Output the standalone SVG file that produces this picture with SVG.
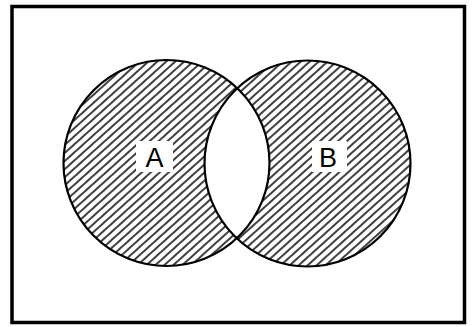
<svg xmlns="http://www.w3.org/2000/svg" width="474" height="327" viewBox="0 0 474 327">
  <style>
    .ring { fill: none; stroke: #000; stroke-width: 2.2; }
    .hatched { fill: url(#hatch); }
    .label-bg { fill: #fff; }
    .label { font-family: "Liberation Sans", Arial, sans-serif; font-size: 27px; fill: #000; text-anchor: middle; }
  </style>
  <defs>
    <pattern id="hatch" patternUnits="userSpaceOnUse" width="6" height="10" patternTransform="rotate(48)">
      <rect width="6" height="10" fill="#fff"/>
      <line x1="1" y1="-1" x2="1" y2="11" stroke="#000" stroke-width="1.5"/>
    </pattern>
    <clipPath id="clipA">
      <circle cx="166.5" cy="163" r="103"/>
    </clipPath>
  </defs>
  <rect x="0" y="0" width="474" height="327" fill="#fff"/>
  <rect id="frame" x="12" y="6.5" width="452.5" height="316" fill="none" stroke="#000" stroke-width="3.5"/>
  <g id="setA">
    <circle class="hatched" cx="166.5" cy="163" r="103"/>
  </g>
  <g id="setB">
    <circle class="hatched" cx="307.5" cy="163.5" r="103"/>
  </g>
  <g id="intersection">
    <circle cx="307.5" cy="163.5" r="103" fill="#fff" clip-path="url(#clipA)"/>
  </g>
  <g id="outlines">
    <circle class="ring" cx="166.5" cy="163" r="103"/>
    <circle class="ring" cx="307.5" cy="163.5" r="103"/>
  </g>
  <g id="labelA">
    <rect class="label-bg" x="136" y="141" width="37" height="31"/>
    <text class="label" x="154.5" y="167">A</text>
  </g>
  <g id="labelB">
    <rect class="label-bg" x="312" y="141" width="35" height="31"/>
    <text class="label" x="328" y="167">B</text>
  </g>
</svg>
